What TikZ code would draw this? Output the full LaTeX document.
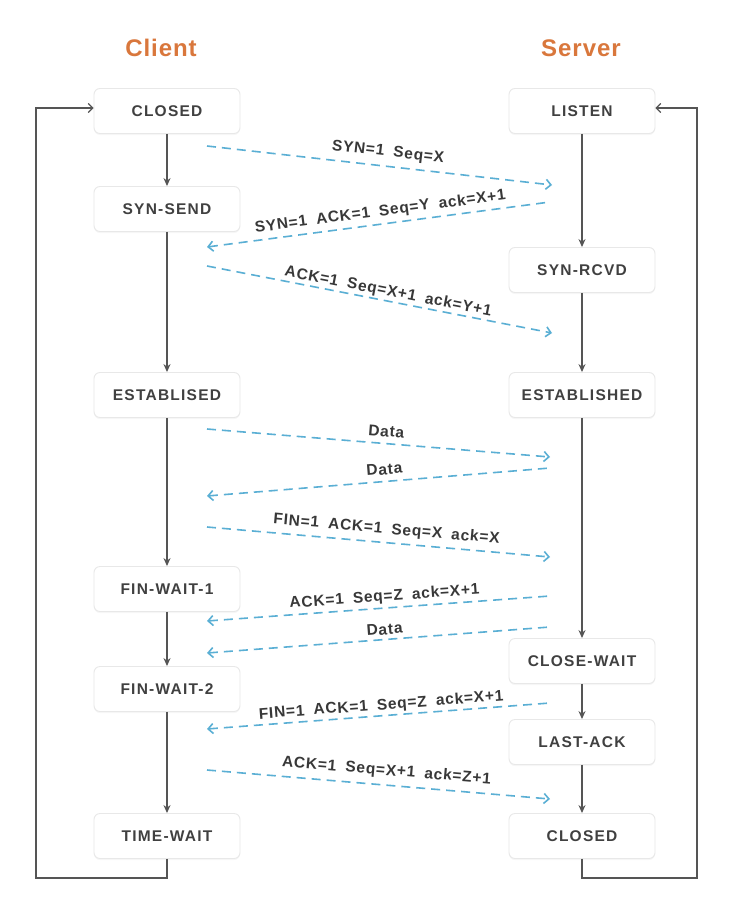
\documentclass[tikz,border=0pt]{standalone}
\usepackage{fontspec}
\setmainfont{Liberation Sans}
\newfontfamily\boxfont{Liberation Sans}[LetterSpace=8]
\newfontfamily\labfont{Liberation Sans}[LetterSpace=5,WordSpace=1.8]
\newfontfamily\titfont{Liberation Sans}[LetterSpace=4]
\usetikzlibrary{arrows.meta,shadows}
\definecolor{titorange}{RGB}{217,119,60}
\definecolor{msgblue}{RGB}{90,175,212}
\definecolor{boxtext}{RGB}{64,64,64}
\definecolor{linegray}{RGB}{85,85,85}
\tikzset{
  state/.style={draw=black!9, line width=0.9pt, fill=white, rounded corners=6pt,
    minimum width=146pt, minimum height=45pt, inner sep=0pt,
    font=\boxfont\bfseries\fontsize{15.5}{17}\selectfont, text=boxtext,
    drop shadow={opacity=0.07, shadow xshift=0pt, shadow yshift=-1.5pt}},
  title/.style={font=\titfont\bfseries\fontsize{24}{26}\selectfont, text=titorange},
  flow/.style={draw=linegray, line width=1.2pt, -{Stealth[length=8pt,width=7pt]}},
  loopline/.style={draw=linegray, line width=1.2pt, -{Straight Barb[length=4.5pt,width=9pt]}},
  msg/.style={draw=msgblue, line width=1.6pt, dash pattern=on 9pt off 6pt},
  tipr/.style={-{Straight Barb[length=5pt,width=10pt]}},
  tipl/.style={{Straight Barb[length=5pt,width=10pt]}-},
  lab/.style={sloped, inner sep=0pt, font=\labfont\bfseries\fontsize{15.5}{17}\selectfont, text=black!78}
}
\begin{document}
\begin{tikzpicture}[x=1pt,y=-1pt]
\useasboundingbox (0,0) rectangle (738,918);
\fill[white] (0,0) rectangle (738,918);

\node[title] (tc) at (161,48) {Client};
\node[title] (ts) at (581,48) {Server};

% client states
\node[state] (c1) at (167,111) {CLOSED};
\node[state] (c2) at (167,209) {SYN-SEND};
\node[state] (c3) at (167,395) {ESTABLISED};
\node[state] (c4) at (167,589) {FIN-WAIT-1};
\node[state] (c5) at (167,689) {FIN-WAIT-2};
\node[state] (c6) at (167,836) {TIME-WAIT};
% server states
\node[state] (s1) at (582,111) {LISTEN};
\node[state] (s2) at (582,270) {SYN-RCVD};
\node[state] (s3) at (582,395) {ESTABLISHED};
\node[state] (s4) at (582,661) {CLOSE-WAIT};
\node[state] (s5) at (582,742) {LAST-ACK};
\node[state] (s6) at (582,836) {CLOSED};

% vertical flows
\draw[flow] (c1) -- (c2);
\draw[flow] (c2) -- (c3);
\draw[flow] (c3) -- (c4);
\draw[flow] (c4) -- (c5);
\draw[flow] (c5) -- (c6);
\draw[flow] (s1) -- (s2);
\draw[flow] (s2) -- (s3);
\draw[flow] (s3) -- (s4);
\draw[flow] (s4) -- (s5);
\draw[flow] (s5) -- (s6);

% loops
\coordinate (cl1) at (167,878);
\coordinate (cl2) at (36,878);
\coordinate (cl3) at (36,108);
\draw[loopline] (c6.south) -- (cl1) -- (cl2) -- (cl3) -- ([yshift=3pt]c1.west);
\coordinate (sl1) at (582,878);
\coordinate (sl2) at (697,878);
\coordinate (sl3) at (697,108);
\draw[loopline] (s6.south) -- (sl1) -- (sl2) -- (sl3) -- ([yshift=3pt]s1.east);

% message endpoints
\coordinate (m1l) at (207,146);  \coordinate (m1r) at (552,185);
\coordinate (m2l) at (207,247);  \coordinate (m2r) at (550,202);
\coordinate (m3l) at (207,266);  \coordinate (m3r) at (552,333);
\coordinate (m4l) at (207,429);  \coordinate (m4r) at (550,457);
\coordinate (m5l) at (207,496);  \coordinate (m5r) at (550,468);
\coordinate (m6l) at (207,527);  \coordinate (m6r) at (550,557);
\coordinate (m7l) at (207,621);  \coordinate (m7r) at (550,596);
\coordinate (m8l) at (207,653);  \coordinate (m8r) at (550,627);
\coordinate (m9l) at (207,729);  \coordinate (m9r) at (550,703);
\coordinate (m10l) at (207,770); \coordinate (m10r) at (550,799);

\draw[msg,tipr] (m1l) -- (m1r) node[lab,pos=0.52,above=6pt] (l1) {SYN=1 Seq=X};
\draw[msg,tipl] (m2l) -- (m2r) node[lab,pos=0.51,above=4pt] (l2) {SYN=1 ACK=1 Seq=Y ack=X+1};
\draw[msg,tipr] (m3l) -- (m3r) node[lab,pos=0.52,above=1pt] (l3) {ACK=1 Seq=X+1 ack=Y+1};
\draw[msg,tipr] (m4l) -- (m4r) node[lab,pos=0.52,above=6pt] (l4) {Data};
\draw[msg,tipl] (m5l) -- (m5r) node[lab,pos=0.52,above=6pt] (l5) {Data};
\draw[msg,tipr] (m6l) -- (m6r) node[lab,pos=0.52,above=5pt] (l6) {FIN=1 ACK=1 Seq=X ack=X};
\draw[msg,tipl] (m7l) -- (m7r) node[lab,pos=0.52,above=3pt] (l7) {ACK=1 Seq=Z ack=X+1};
\draw[msg,tipl] (m8l) -- (m8r) node[lab,pos=0.52,above=4pt] (l8) {Data};
\draw[msg,tipl] (m9l) -- (m9r) node[lab,pos=0.51,above=2pt] (l9) {FIN=1 ACK=1 Seq=Z ack=X+1};
\draw[msg,tipr] (m10l) -- (m10r) node[lab,pos=0.52,above=6pt] (l10) {ACK=1 Seq=X+1 ack=Z+1};
\end{tikzpicture}
\end{document}
